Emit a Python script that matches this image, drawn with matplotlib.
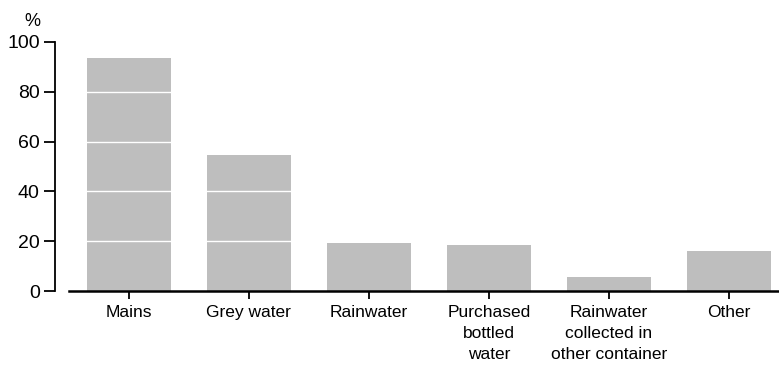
import matplotlib
matplotlib.use('Agg')
from matplotlib import pyplot as plt

categories = ['Mains', 'Grey water', 'Rainwater', 'Purchased\nbottled\nwater',
              'Rainwater\ncollected in\nother container', 'Other']
values = [93.6, 54.6, 19.3, 18.5, 5.6, 16.1]
yticks = [0, 20, 40, 60, 80, 100]

plt.rcParams['font.family'] = ['Liberation Sans', 'DejaVu Sans']

W, H = 779, 369
fig = plt.figure(figsize=(W / 100, H / 100), dpi=100)
ax = fig.add_axes([69 / W, 78 / H, (W - 69) / W, (291 - 42) / H])

x = list(range(len(categories)))
ax.bar(x, values, width=0.7, color='#bebebe', zorder=1)
for v in yticks[1:-1]:
    ax.axhline(v, color='white', linewidth=1.0, zorder=2)

ax.set_xlim(-0.5, 5.42)
ax.set_ylim(0, 100)
ax.set_yticks(yticks)
ax.set_xticks(x)
ax.set_xticklabels(categories, fontsize=12.5, linespacing=1.5, va='top')

ax.spines['top'].set_visible(False)
ax.spines['right'].set_visible(False)
ax.spines['left'].set_position(('outward', 10))
ax.spines['left'].set_linewidth(1.3)
ax.spines['bottom'].set_linewidth(1.8)

ax.tick_params(axis='y', direction='out', length=8, width=1.3, labelsize=14, pad=3)
ax.tick_params(axis='x', direction='out', length=6, width=1.3, pad=4)

fig.text(32 / W, 1 - 22 / H, '%', fontsize=13, ha='center', va='center')

fig.savefig('out.png', dpi=100)
